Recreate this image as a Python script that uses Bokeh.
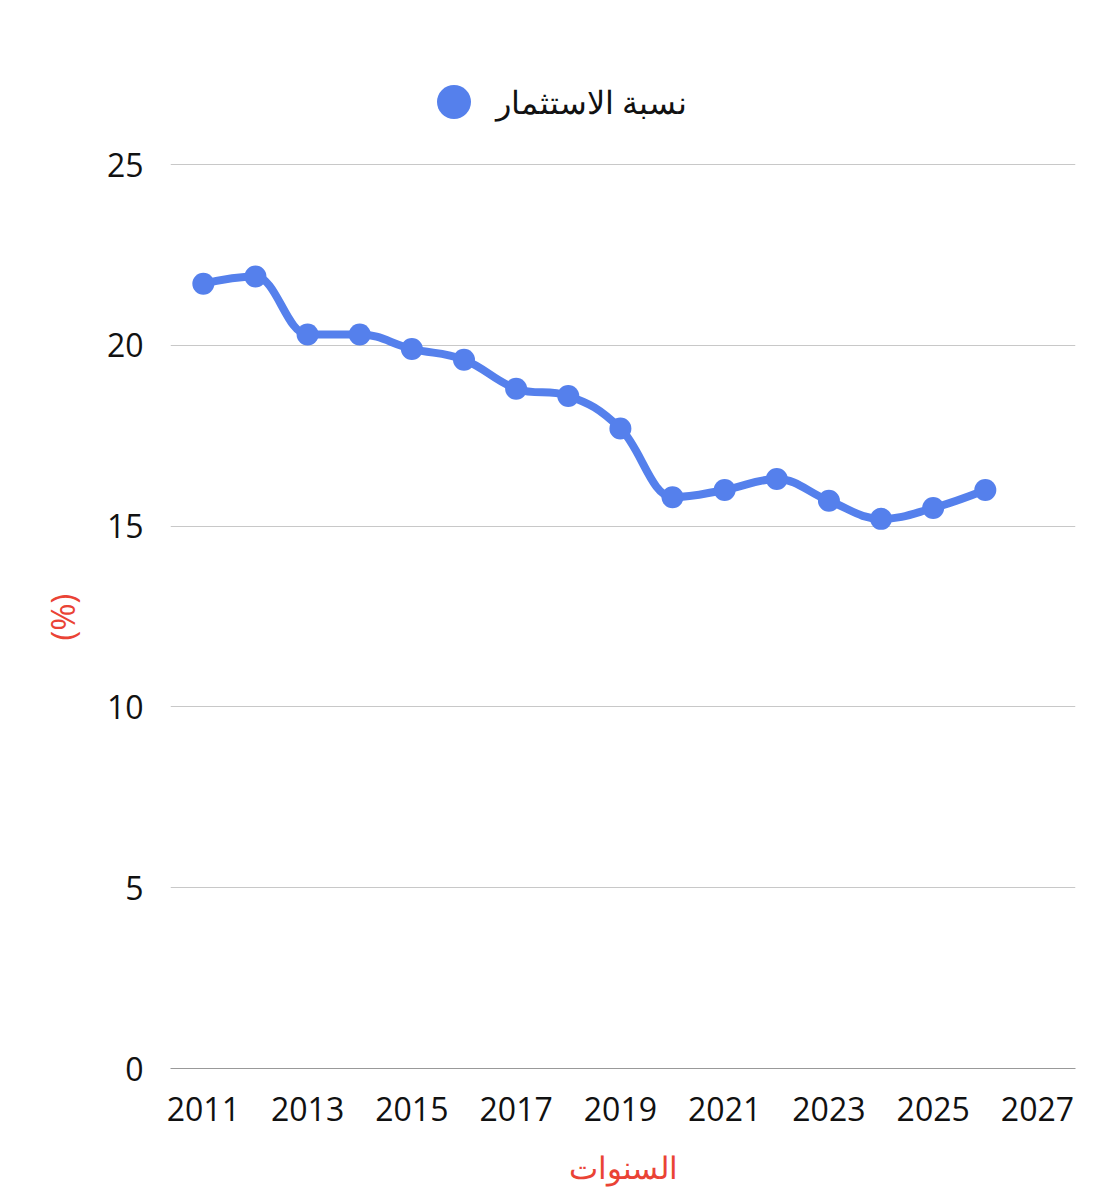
from bokeh.plotting import figure
from bokeh.models import Legend, LegendItem, Range1d, FixedTicker, ColumnDataSource, Title
from bokeh.embed import file_html
from bokeh.resources import INLINE

years = [2011, 2012, 2013, 2014, 2015, 2016, 2017, 2018, 2019, 2020, 2021, 2022, 2023, 2024, 2025, 2026]
values = [21.7, 21.9, 20.3, 20.3, 19.9, 19.6, 18.8, 18.6, 17.7, 15.8, 16.0, 16.3, 15.7, 15.2, 15.5, 16.0]
series_name = "نسبة الاستثمار"
x_title = "السنوات"
y_title = "(%)"
x_ticks = [2011, 2013, 2015, 2017, 2019, 2021, 2023, 2025, 2027]
y_ticks = [0, 5, 10, 15, 20, 25]

COLOR = "#5580ec"
FONT = "Open Sans"
RED = "#ea4335"


def spline_segments(xs, ys, smoothing=1.5):
    n = len(xs)
    lcx, lcy, rcx, rcy = list(xs), list(ys), list(xs), list(ys)
    d = smoothing + 1
    for i in range(1, n - 1):
        px, py = xs[i], ys[i]
        lx, ly = xs[i - 1], ys[i - 1]
        nx, ny = xs[i + 1], ys[i + 1]
        a_x = (smoothing * px + lx) / d
        a_y = (smoothing * py + ly) / d
        b_x = (smoothing * px + nx) / d
        b_y = (smoothing * py + ny) / d
        if b_x != a_x:
            corr = ((b_y - a_y) * (b_x - px)) / (b_x - a_x) + py - b_y
            a_y += corr
            b_y += corr
            if a_y > ly and a_y > py:
                a_y = max(ly, py)
                b_y = 2 * py - a_y
            elif a_y < ly and a_y < py:
                a_y = min(ly, py)
                b_y = 2 * py - a_y
            if b_y > ny and b_y > py:
                b_y = max(ny, py)
                a_y = 2 * py - b_y
            elif b_y < ny and b_y < py:
                b_y = min(ny, py)
                a_y = 2 * py - b_y
        lcx[i], lcy[i], rcx[i], rcy[i] = a_x, a_y, b_x, b_y
    seg = dict(x0=[], y0=[], x1=[], y1=[], cx0=[], cy0=[], cx1=[], cy1=[])
    for i in range(1, n):
        seg["x0"].append(xs[i - 1]); seg["y0"].append(ys[i - 1])
        seg["x1"].append(xs[i]); seg["y1"].append(ys[i])
        seg["cx0"].append(rcx[i - 1]); seg["cy0"].append(rcy[i - 1])
        seg["cx1"].append(lcx[i]); seg["cy1"].append(lcy[i])
    return seg


# frame extends above the 25 gridline to host the legend
FRAME_H = 1028
PLOT_H = 904
y_top = max(y_ticks) * FRAME_H / PLOT_H

p = figure(
    frame_width=905, frame_height=FRAME_H,
    min_border_left=170, min_border_right=7, min_border_top=40, min_border_bottom=110,
    output_backend="svg", toolbar_location=None,
    x_range=Range1d(2010.37, 2027.73), y_range=Range1d(0, y_top),
)
p.outline_line_color = None
p.background_fill_color = "white"
p.border_fill_color = "white"

seg_src = ColumnDataSource(spline_segments(years, values))
p.bezier("x0", "y0", "x1", "y1", "cx0", "cy0", "cx1", "cy1", source=seg_src,
         line_color=COLOR, line_width=8, line_cap="round", line_join="round")
pts = p.scatter(years, values, size=22, fill_color=COLOR, line_color=COLOR, line_width=0)

p.xaxis.ticker = FixedTicker(ticks=x_ticks)
p.yaxis.ticker = FixedTicker(ticks=y_ticks)
for ax in (p.xaxis, p.yaxis):
    ax.major_tick_line_color = None
    ax.minor_tick_line_color = None
    ax.major_label_text_font = FONT
    ax.major_label_text_font_size = "32px"
    ax.major_label_text_color = "#111111"
    ax.axis_label_text_font = FONT
    ax.axis_label_text_font_size = "31px"
    ax.axis_label_text_color = RED
    ax.axis_label_text_font_style = "normal"
p.yaxis.axis_line_color = None
p.xaxis.axis_line_color = "#999999"
p.xaxis.axis_line_width = 1
p.xaxis.major_label_standoff = 22
p.yaxis.major_label_standoff = 21
p.xaxis.axis_label = x_title
p.xaxis.axis_label_standoff = 22

# y title centred on the 0..25 span (not on the taller frame)
ytitle = Title(text=y_title, align="left", offset=428, vertical_align="middle",
               standoff=36, text_font=FONT, text_font_size="33px",
               text_font_style="normal", text_color=RED)
p.add_layout(ytitle, "left")

p.xgrid.grid_line_color = None
p.ygrid.grid_line_color = "#c8c8c8"
p.ygrid.grid_line_width = 1

legend = Legend(items=[LegendItem(label=series_name, renderers=[pts])],
                location=(241, 924), orientation="horizontal",
                glyph_width=85, glyph_height=85, label_standoff=-12,
                label_text_font=FONT, label_text_font_size="32px", label_text_color="#111111",
                padding=0, margin=0, border_line_color=None, background_fill_alpha=0,
                label_height=85)
p.add_layout(legend, "center")

open("out.html", "w").write(file_html(p, INLINE))
